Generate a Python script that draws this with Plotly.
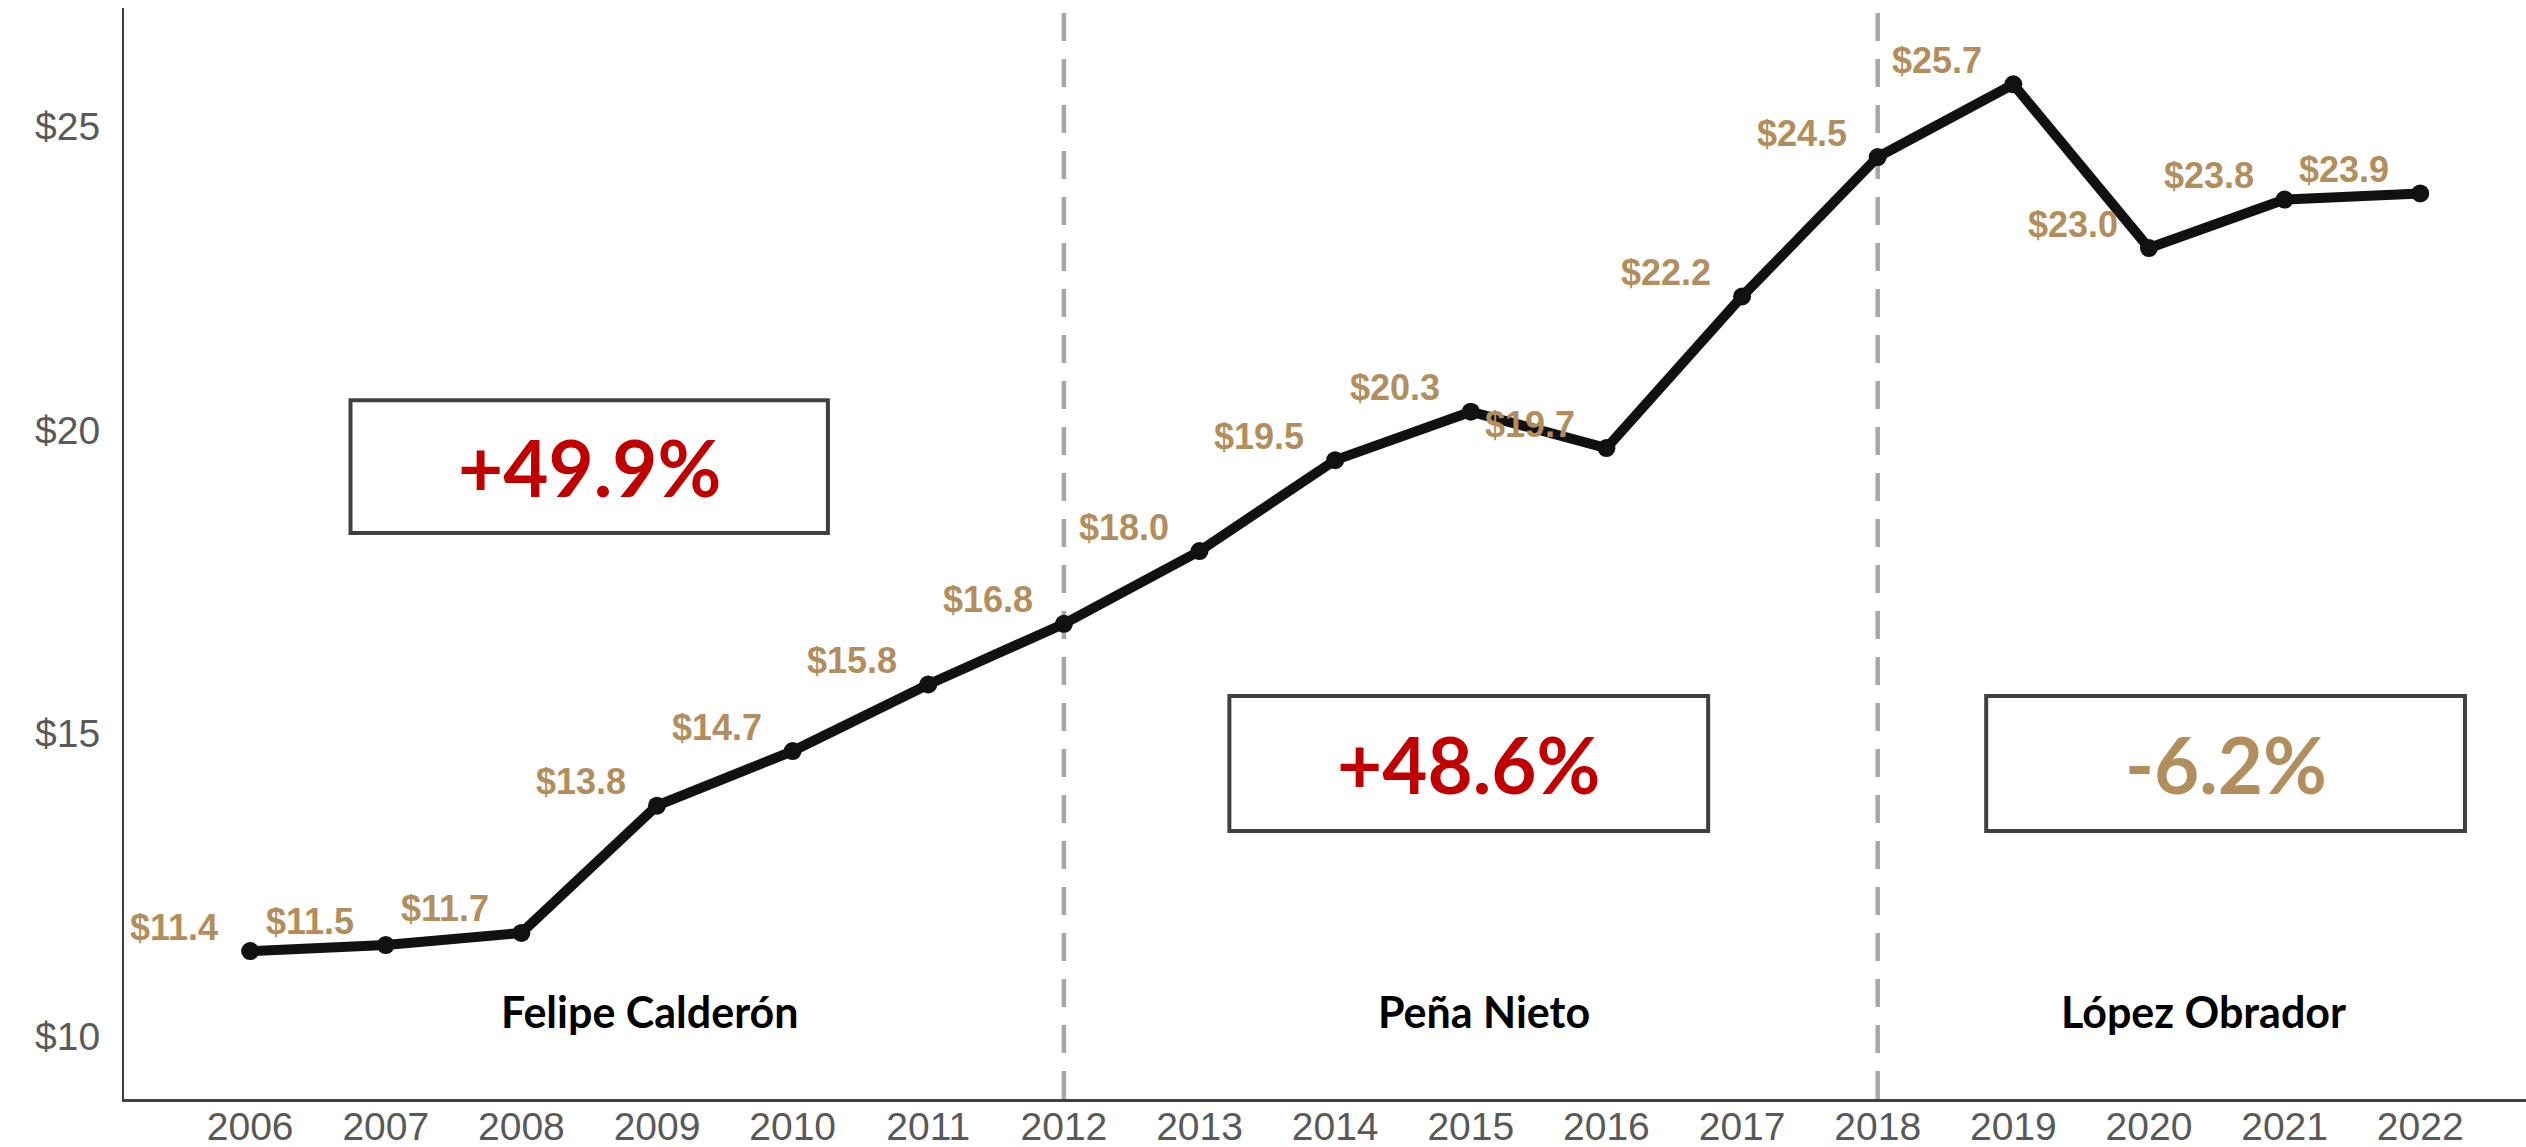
import plotly.graph_objects as go

# ---- data ----
years = [2006, 2007, 2008, 2009, 2010, 2011, 2012, 2013, 2014, 2015, 2016,
         2017, 2018, 2019, 2020, 2021, 2022]
values = [11.4, 11.5, 11.7, 13.8, 14.7, 15.8, 16.8, 18.0, 19.5, 20.3, 19.7,
          22.2, 24.5, 25.7, 23.0, 23.8, 23.9]
y_ticks = [10, 15, 20, 25]
period_breaks = [2012, 2018]
period_names = ["Felipe Calderón", "Peña Nieto", "López Obrador"]
period_name_x = [2008.95, 2015.1, 2020.4]
period_changes = ["+49.9%", "+48.6%", "-6.2%"]
period_colors = ["#C00000", "#C00000", "#B38E5D"]
# box extents (x0, x1, y0, y1) in data units
period_boxes = [(2006.74, 2010.26, 18.30, 20.49),
                (2013.22, 2016.75, 13.38, 15.61),
                (2018.80, 2022.33, 13.38, 15.61)]

GOLD = "#B38E5D"
TICK = "#595959"

fig = go.Figure()
fig.add_trace(go.Scatter(
    x=years, y=values, mode="lines+markers",
    line=dict(color="#111111", width=10),
    marker=dict(color="#111111", size=18),
    hoverinfo="x+y", showlegend=False,
))

annotations = []
for yr, v in zip(years, values):
    annotations.append(dict(
        x=yr, y=v, xref="x", yref="y", text=f"<b>${v:.1f}</b>", showarrow=False,
        xshift=-76, yshift=24,
        font=dict(family="Liberation Sans, Arial", size=36, color=GOLD),
    ))

shapes = []
for b in period_breaks:
    shapes.append(dict(type="line", xref="x", yref="paper", x0=b, x1=b,
                       y0=0, y1=1,
                       line=dict(color="#A6A6A6", width=4.5, dash="28px,18px"),
                       layer="below"))

for (x0, x1, y0, y1), txt, col in zip(period_boxes, period_changes, period_colors):
    shapes.append(dict(type="rect", xref="x", yref="y", x0=x0, x1=x1, y0=y0, y1=y1,
                       line=dict(color="#404040", width=4),
                       fillcolor="rgba(255,255,255,0.9)", layer="below"))
    annotations.append(dict(
        x=(x0 + x1) / 2, y=(y0 + y1) / 2, xref="x", yref="y", text=f"<b>{txt}</b>",
        showarrow=False,
        font=dict(family="Lato, Open Sans, sans-serif", size=78, color=col),
    ))

for name, nx in zip(period_names, period_name_x):
    annotations.append(dict(
        x=nx, y=10.4, xref="x", yref="y", text=f"<b>{name}</b>", showarrow=False,
        font=dict(family="Lato, Open Sans, sans-serif", size=43, color="#000000"),
    ))

fig.update_layout(
    width=2526, height=1147,
    margin=dict(l=124, r=0, t=8, b=48, autoexpand=False),
    paper_bgcolor="white", plot_bgcolor="rgba(0,0,0,0)",
    shapes=shapes, annotations=annotations,
    xaxis=dict(range=[2005.07, 2022.78], tickmode="array", tickvals=years,
               ticktext=[str(y) for y in years], showgrid=False, zeroline=False,
               showline=True, linecolor="#404040", linewidth=3, ticks="",
               ticklabelstandoff=-9,
               tickfont=dict(family="Liberation Sans, Arial", size=39, color=TICK),
               automargin=False),
    yaxis=dict(range=[8.96, 26.96], tickmode="array", tickvals=y_ticks,
               ticktext=[f"${t}" for t in y_ticks], showgrid=False, zeroline=False,
               showline=True, linecolor="#404040", linewidth=2, ticks="",
               ticklabelstandoff=14,
               tickfont=dict(family="Liberation Sans, Arial", size=39, color=TICK),
               automargin=False),
)

fig.write_html(
    "out.html",
    config={"displayModeBar": False},
    post_script="document.body.style.margin='0';document.documentElement.style.overflow='hidden';",
)
